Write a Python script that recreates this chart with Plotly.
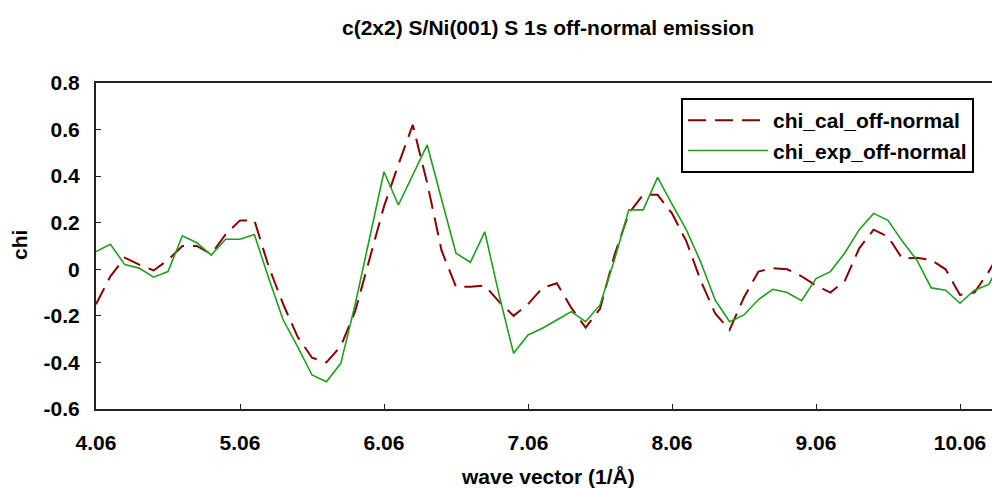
import plotly.graph_objects as go

# wave vector grid (1/Å), step 0.1 starting at 4.06
k_values = [round(4.06 + 0.1 * i, 2) for i in range(64)]

chi_cal = [-0.15, -0.03, 0.05, 0.02, -0.005, 0.04, 0.10, 0.10, 0.065, 0.15,
           0.21, 0.21, 0.01, -0.15, -0.29, -0.38, -0.40, -0.33, -0.18, 0.04,
           0.27, 0.45, 0.62, 0.37, 0.08, -0.075, -0.075, -0.07, -0.14, -0.20,
           -0.15, -0.08, -0.06, -0.165, -0.25, -0.17, 0.06, 0.24, 0.32, 0.32,
           0.24, 0.12, -0.05, -0.19, -0.26, -0.12, -0.01, 0.005, 0.0, -0.03,
           -0.07, -0.10, -0.05, 0.09, 0.17, 0.14, 0.045, 0.05, 0.04, 0.0,
           -0.11, -0.10, -0.01, 0.10]

chi_exp = [0.076, 0.107, 0.02, 0.005, -0.034, -0.01, 0.144, 0.114, 0.061, 0.129,
           0.129, 0.149, -0.04, -0.218, -0.332, -0.454, -0.483, -0.404, -0.15, 0.14,
           0.419, 0.276, 0.405, 0.534, 0.30, 0.069, 0.030, 0.161, -0.112, -0.361,
           -0.282, -0.253, -0.218, -0.182, -0.225, -0.153, 0.04, 0.255, 0.255, 0.395,
           0.28, 0.169, 0.03, -0.132, -0.225, -0.196, -0.13, -0.086, -0.10, -0.135,
           -0.04, -0.01, 0.07, 0.17, 0.24, 0.21, 0.12, 0.04, -0.08, -0.09,
           -0.146, -0.09, -0.065, 0.05]

x_tick_vals = [4.06, 5.06, 6.06, 7.06, 8.06, 9.06, 10.06]
x_tick_text = ["4.06", "5.06", "6.06", "7.06", "8.06", "9.06", "10.06"]
y_tick_vals = [0.8, 0.6, 0.4, 0.2, 0, -0.2, -0.4, -0.6]
y_tick_text = ["0.8", "0.6", "0.4", "0.2", "0", "-0.2", "-0.4", "-0.6"]

FONT = "Arial, 'Liberation Sans', sans-serif"

fig = go.Figure()
fig.add_trace(go.Scatter(
    x=k_values, y=chi_cal, mode="lines", name="chi_cal_off-normal",
    line=dict(color="#8b0000", width=2, dash="18px,9px"),
))
fig.add_trace(go.Scatter(
    x=k_values, y=chi_exp, mode="lines", name="chi_exp_off-normal",
    line=dict(color="#1f9e1f", width=1.6),
))

fig.update_layout(
    width=992, height=488,
    margin=dict(l=96, r=0, t=83, b=79),
    paper_bgcolor="white", plot_bgcolor="white",
    font=dict(family=FONT, size=21, color="black", weight="bold"),
    showlegend=True,
    legend=dict(
        x=(681 - 96) / 896, y=(409 - 98) / 326, xanchor="left", yanchor="top",
        bordercolor="black", borderwidth=2, bgcolor="white",
        font=dict(family=FONT, size=21, color="black", weight="bold"),
        itemwidth=80, tracegroupgap=0,
    ),
    xaxis=dict(
        range=[4.06, 4.06 + 896 / 144], tickvals=x_tick_vals, ticktext=x_tick_text,
        showgrid=False, zeroline=False, showline=True, linecolor="#222", linewidth=2,
        mirror=True, ticks="inside", ticklen=5, tickcolor="#222", tickwidth=1,
        ticklabelstandoff=14,
    ),
    yaxis=dict(
        range=[-0.6, 0.8], tickvals=y_tick_vals, ticktext=y_tick_text,
        showgrid=False, zeroline=False, showline=True, linecolor="#222", linewidth=2,
        ticks="inside", ticklen=5, tickcolor="#222", tickwidth=1,
        ticklabelstandoff=10,
    ),
    annotations=[
        dict(text="c(2x2) S/Ni(001) S 1s off-normal emission", xref="paper", yref="paper",
             x=(548 - 96) / 896, y=(409 - 27) / 326, xanchor="center", yanchor="middle",
             showarrow=False, font=dict(family=FONT, size=21, color="black", weight="bold")),
        dict(text="wave vector (1/Å)", xref="paper", yref="paper",
             x=(548 - 96) / 896, y=(409 - 477) / 326, xanchor="center", yanchor="middle",
             showarrow=False, font=dict(family=FONT, size=21, color="black", weight="bold")),
        dict(text="chi", xref="paper", yref="paper", textangle=-90,
             x=(19 - 96) / 896, y=(409 - 245) / 326, xanchor="center", yanchor="middle",
             showarrow=False, font=dict(family=FONT, size=21, color="black", weight="bold")),
    ],
)

fig.write_html("out.html")
